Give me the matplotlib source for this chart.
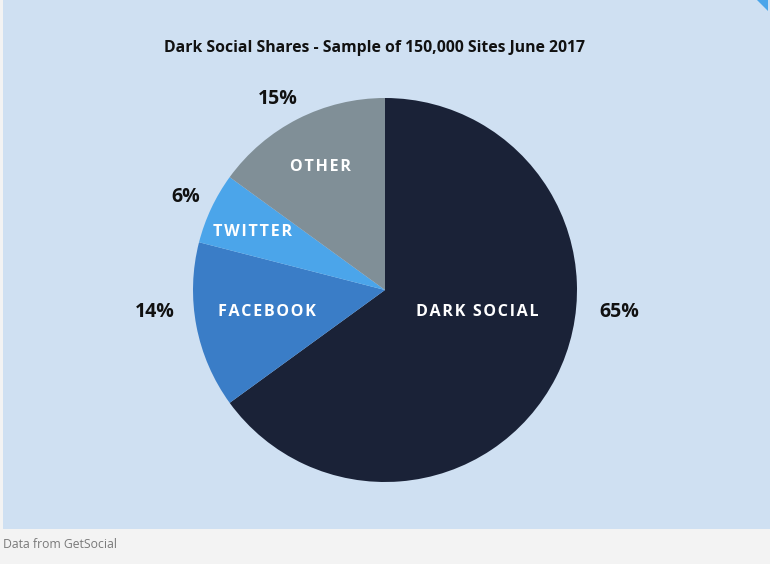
import matplotlib
matplotlib.use("Agg")
import matplotlib.pyplot as plt
from matplotlib.patches import Rectangle, Polygon

# data
categories = ["DARK SOCIAL", "FACEBOOK", "TWITTER", "OTHER"]
shares = [65, 14, 6, 15]
colors = ["#1a2237", "#3a7dc7", "#4ba5ea", "#808f97"]

# label layout, in pie radii from the centre
name_pos = [(0.48, -0.115), (-0.615, -0.115), (-0.69, 0.30), (-0.335, 0.64)]
pct_pos = [(1.22, -0.115), (-1.2, -0.115), (-1.04, 0.485), (-0.56, 0.995)]

W, H = 770, 564
cx, cy, R = 385, 290, 192

plt.rcParams['font.family'] = ['Open Sans', 'DejaVu Sans']

fig = plt.figure(figsize=(W / 100, H / 100), dpi=100, facecolor="#f3f3f3")

# light blue panel
fig.patches.append(Rectangle((3 / W, 1 - 529 / H), 1 - 3 / W, 529 / H,
                             transform=fig.transFigure, facecolor="#cfe0f2",
                             edgecolor="none", zorder=-2))
fig.patches.append(Polygon([(757 / W, 1), (768 / W, 1), (768 / W, 1 - 11 / H)],
                           closed=True, transform=fig.transFigure,
                           facecolor="#4ba5ea", edgecolor="none", zorder=-1))

ax = fig.add_axes([0, 0, 1, 1])
ax.set_facecolor("none")

ax.pie(shares, colors=colors, startangle=90, counterclock=False, radius=1,
       center=(0, 0), wedgeprops=dict(linewidth=0), frame=True)
ax.set_xlim(-cx / R, (W - cx) / R)
ax.set_ylim(-(H - cy) / R, cy / R)
ax.axis("off")

# spaced-out capitals, like the original
for name, (x, y) in zip(categories, name_pos):
    ax.text(x, y, "\u200a".join(name), color="white", fontsize=11.6, fontweight="bold",
            ha="center", va="center")

for v, (x, y) in zip(shares, pct_pos):
    ax.text(x, y, f"{v}%", color="#111111", fontsize=14, fontweight="bold",
            ha="center", va="center")

fig.text(375 / W, 1 - 48 / H, "Dark Social Shares - Sample of 150,000 Sites June 2017",
         fontsize=11.3, fontweight="bold", color="#111111", ha="center", va="center")

fig.text(3 / W, 1 - 545 / H, "Data from GetSocial", fontsize=8.8, color="#7a7a7a",
         ha="left", va="center")

fig.savefig("out.png", dpi=100, facecolor=fig.get_facecolor())
